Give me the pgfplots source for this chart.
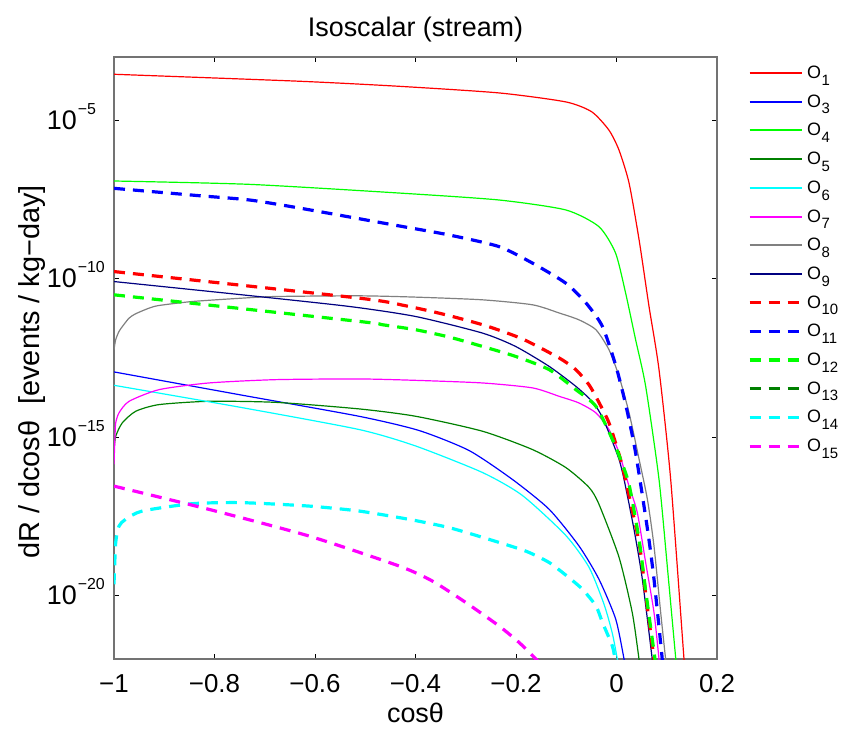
\documentclass[border=0pt]{standalone}
\usepackage{fontspec}
\setmainfont{Liberation Sans}
\usepackage{pgfplots}
\pgfplotsset{compat=1.18}
\definecolor{mred}{rgb}{1,0,0}
\definecolor{mblue}{rgb}{0,0,1}
\definecolor{mgreen}{rgb}{0,1,0}
\definecolor{dkgreen}{rgb}{0,0.5,0}
\definecolor{mcyan}{rgb}{0,1,1}
\definecolor{mmag}{rgb}{1,0,1}
\definecolor{navy}{rgb}{0,0,0.5}
\definecolor{mgray}{rgb}{0.5,0.5,0.5}
\newcommand{\tenexp}[1]{10\rlap{\kern1bp\raisebox{15bp}{\fontsize{16}{16}\selectfont −#1}}}
\newcommand{\Os}[1]{\kern4bp O\kern0.5bp\raisebox{-6.7bp}{\fontsize{15}{15}\selectfont #1}}
\pgfplotsset{
  thinl/.style={line width=1.2bp, solid, legend image post style={line width=2bp}},
  thkl/.style={line width=3.2bp, dash pattern=on 11bp off 8bp},
}
\begin{document}
\begin{tikzpicture}
\useasboundingbox (0,0) rectangle (843bp,731bp);
\begin{axis}[
  at={(114bp,72bp)}, anchor=south west,
  width=603bp, height=602bp, scale only axis,
  xmin=-1, xmax=0.2, ymode=log, ymin=1e-22, ymax=1e-3,
  xtick={-1,-0.8,-0.6,-0.4,-0.2,0,0.2},
  xticklabels={−1,−0.8,−0.6,−0.4,−0.2,0,0.2},
  ytick={1e-20,1e-15,1e-10,1e-5},
  yticklabels={\tenexp{20},\tenexp{15},\tenexp{10},\tenexp{5}},
  minor y tick style={draw=none},
  tick align=inside, major tick length=5bp,
  axis line style={black!55, line width=1.2bp},
  tick style={black, line width=0.8bp},
  xticklabel style={font=\fontsize{26}{26}\selectfont, anchor=north, inner sep=0pt, yshift=-15.5bp},
  yticklabel style={font=\fontsize{27}{27}\selectfont, anchor=base east, inner sep=0pt, xshift=-37bp, yshift=-9bp},
  every axis title shift=0pt,
  title={Isoscalar (stream)},
  title style={font=\fontsize{27}{27}\selectfont, at={(axis description cs:0.5,1.0449)}, anchor=center, inner sep=0pt},
  xlabel={cosθ},
  xlabel style={font=\fontsize{27}{27}\selectfont, at={(axis description cs:0.5,-0.089)}, anchor=center, inner sep=0pt},
  ylabel={dR / dcosθ\ \ [events / kg−day]},
  ylabel style={font=\fontsize{29}{29}\selectfont, at={(axis description cs:-0.136,0.4767)}, anchor=center, inner sep=0pt},
  legend style={at={(axis description cs:1.0514,0.99726)}, anchor=north west, draw=none, fill=none,
     inner sep=0pt, outer sep=0pt, row sep=0pt,
     font=\fontsize{18}{18}\selectfont,
     nodes={inner sep=0pt, minimum height=28.7bp}, cells={anchor=west}},
  legend image code/.code={\draw[#1] (0bp,0bp) -- (52bp,0bp);},
  legend cell align=left,
  every axis plot/.append style={smooth, tension=0.4},
]
% O1
\addplot[mred, thinl] coordinates {(-1,2.85e-4) (-0.632,1.72e-4) (-0.433,1.19e-4) (-0.234,7.35e-5) (-0.101,3.83e-5) (-0.049,1.85e-5) (-0.015,4.91e-6) (0.005,1.15e-6) (0.025,1.05e-7) (0.045,1.68e-9) (0.0647,1.34e-11) (0.0846,1.36e-13) (0.1078,4.68e-17) (0.1343,1e-22) (0.14,8e-24)};
\addlegendentry{\Os{1}}
% O3
\addplot[mblue, thinl] coordinates {(-1,1.15e-13) (-0.745,2.12e-14) (-0.5124,4.58e-15) (-0.393,1.63e-15) (-0.2935,3.81e-16) (-0.2074,4.68e-17) (-0.134,5.31e-18) (-0.0746,3.69e-19) (-0.035,3.31e-20) (-0.0016,1.82e-21) (0.015,1e-22) (0.0189,4.2e-23)};
\addlegendentry{\Os{3}}
% O4
\addplot[mgreen, thinl] coordinates {(-1,1.22e-7) (-0.731,9.57e-8) (-0.433,5.09e-8) (-0.234,3.07e-8) (-0.101,1.49e-8) (-0.035,4.43e-9) (-0.002,6.56e-10) (0.018,3.63e-11) (0.038,1.20e-12) (0.058,4.07e-14) (0.0846,4.68e-17) (0.1025,4.75e-20) (0.118,1e-22) (0.125,8e-24)};
\addlegendentry{\Os{4}}
% O5
\addplot[dkgreen, thinl] coordinates {(-1,4.10e-16) (-0.9966,1.07e-15) (-0.9835,2.84e-15) (-0.9568,6.59e-15) (-0.9104,1.07e-14) (-0.811,1.36e-14) (-0.678,1.26e-14) (-0.5124,7.83e-15) (-0.3996,4.58e-15) (-0.267,1.55e-15) (-0.1676,4.10e-16) (-0.1011,1.11e-16) (-0.0547,2.61e-17) (-0.0348,7.59e-18) (0.005,1.63e-19) (0.0313,2.94e-21) (0.0448,1e-22) (0.0488,3.4e-23)};
\addlegendentry{\Os{5}}
% O6
\addplot[mcyan, thinl] coordinates {(-1,4.35e-14) (-0.7455,8.61e-15) (-0.5124,1.75e-15) (-0.3996,5.28e-16) (-0.267,7.73e-17) (-0.1875,1.46e-17) (-0.1011,8.02e-19) (-0.0547,7.87e-20) (-0.0249,5.38e-21) (-0.0084,6.56e-22) (0.0016,1e-22) (0.005,4.2e-23)};
\addlegendentry{\Os{6}}
% O7
\addplot[mmag, thinl] coordinates {(-1,1.38e-16) (-0.998,1.07e-15) (-0.9966,2.84e-15) (-0.990,5.89e-15) (-0.970,1.36e-14) (-0.910,3.18e-14) (-0.811,5.16e-14) (-0.678,6.56e-14) (-0.512,6.90e-14) (-0.400,6.24e-14) (-0.267,5.16e-14) (-0.167,3.60e-14) (-0.114,1.95e-14) (-0.075,1.21e-14) (-0.041,5.86e-15) (-0.015,1.75e-15) (0.005,3.23e-16) (0.0249,2.86e-17) (0.0414,4.17e-18) (0.058,1.11e-19) (0.0746,2.95e-21) (0.0846,1e-22) (0.089,2e-23)};
\addlegendentry{\Os{7}}
% O8
\addplot[mgray, thinl] coordinates {(-1,5.75e-13) (-0.9966,1.20e-12) (-0.990,2.19e-12) (-0.983,3.16e-12) (-0.970,5.75e-12) (-0.957,7.87e-12) (-0.930,1.19e-11) (-0.910,1.44e-11) (-0.844,1.92e-11) (-0.745,2.45e-11) (-0.678,2.76e-11) (-0.512,2.90e-11) (-0.400,2.64e-11) (-0.267,2.17e-11) (-0.167,1.51e-11) (-0.114,8.32e-12) (-0.075,5.09e-12) (-0.041,2.47e-12) (-0.015,5.78e-13) (0.005,8.34e-14) (0.025,5.89e-15) (0.045,2.0e-16) (0.0615,1.09e-17) (0.0746,3.69e-19) (0.0879,2.95e-21) (0.0977,1e-22) (0.102,2.3e-23)};
\addlegendentry{\Os{8}}
% O9
\addplot[navy, thinl] coordinates {(-1,8.18e-11) (-0.745,3.12e-11) (-0.532,1.34e-11) (-0.400,6.47e-12) (-0.267,1.94e-12) (-0.201,7.35e-13) (-0.134,1.72e-13) (-0.081,4.04e-14) (-0.048,1.33e-14) (-0.031,5.19e-15) (-0.015,1.38e-15) (0.005,2.0e-16) (0.015,4.68e-17) (0.0348,1.24e-18) (0.0514,3.31e-20) (0.0711,1e-22) (0.078,1.4e-23)};
\addlegendentry{\Os{9}}
% O10
\addplot[mred, thkl] coordinates {(-1,1.69e-10) (-0.512,2.45e-11) (-0.420,1.41e-11) (-0.340,7.33e-12) (-0.260,3.30e-12) (-0.187,1.26e-12) (-0.114,3.16e-13) (-0.081,1.36e-13) (-0.055,4.57e-14) (-0.038,1.55e-14) (-0.015,2.84e-15) (0.008,2.0e-16) (0.0209,2.79e-17) (0.0448,4.81e-19) (0.0587,9.55e-21) (0.0746,1e-22) (0.0786,3.4e-23)};
\addlegendentry{\Os{10}}
% O11
\addplot[mblue, thkl] coordinates {(-1,7.16e-8) (-0.831,4.2e-8) (-0.731,3.08e-8) (-0.632,1.72e-8) (-0.4328,4.67e-9) (-0.3333,2.42e-9) (-0.234,1.04e-9) (-0.167,3.11e-10) (-0.101,7.29e-11) (-0.061,1.75e-11) (-0.028,3.13e-12) (-0.001,1.72e-13) (0.019,9.55e-15) (0.038,3.24e-16) (0.0617,1.23e-18) (0.0746,3.31e-20) (0.091,1e-22) (0.097,6.3e-24)};
\addlegendentry{\Os{11}}
% O12
\addplot[mgreen, thkl] coordinates {(-1,3.12e-11) (-0.512,4.51e-12) (-0.466,3.55e-12) (-0.400,2.47e-12) (-0.333,1.45e-12) (-0.267,7.35e-13) (-0.201,3.56e-13) (-0.134,1.36e-13) (-0.081,3.18e-14) (-0.041,9.46e-15) (-0.008,8.47e-16) (0.008,2.0e-16) (0.0249,3.24e-17) (0.0448,6.0e-19) (0.0587,1.19e-20) (0.0766,1e-22) (0.0806,3.4e-23)};
\addlegendentry{\Os{12}}
% O13 (not visible in the plotted range)
\addlegendimage{dkgreen, thkl}
\addlegendentry{\Os{13}}
% O14
\addplot[mcyan, thkl] coordinates {(-1,2.29e-20) (-0.9966,4.72e-19) (-0.990,1.57e-18) (-0.977,2.56e-18) (-0.944,4.67e-18) (-0.844,7.98e-18) (-0.745,8.59e-18) (-0.612,6.71e-18) (-0.512,4.67e-18) (-0.413,2.56e-18) (-0.333,1.40e-18) (-0.254,6.0e-19) (-0.181,2.56e-19) (-0.134,1.11e-19) (-0.095,3.73e-20) (-0.068,1.60e-20) (-0.041,4.75e-21) (-0.028,1.43e-21) (-0.0084,2.61e-22) (-0.003,1e-22) (0.0,5e-23)};
\addlegendentry{\Os{14}}
% O15
\addplot[mmag, thkl] coordinates {(-1,2.86e-17) (-0.811,5.28e-18) (-0.612,7.62e-19) (-0.433,8.65e-20) (-0.367,2.92e-20) (-0.300,6.08e-21) (-0.234,1.11e-21) (-0.194,3.34e-22) (-0.164,1.13e-22) (-0.154,7.9e-23)};
\addlegendentry{\Os{15}}
\end{axis}
\end{tikzpicture}
\end{document}
